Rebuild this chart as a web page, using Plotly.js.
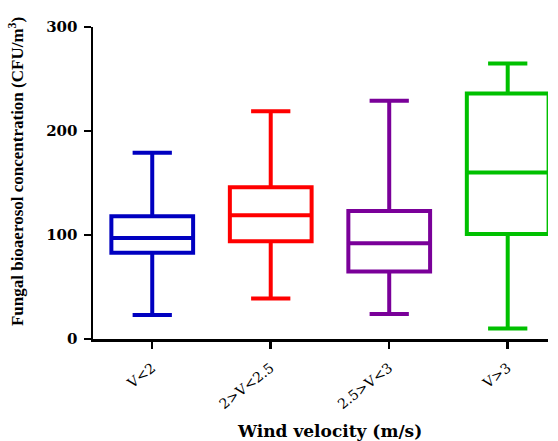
<!DOCTYPE html>
<html>
<head>
<meta charset="utf-8">
<script src="https://cdn.plot.ly/plotly-3.0.1.min.js"></script>
<style>html,body{margin:0;padding:0;background:#fff;}#chart{width:558px;height:441px;}</style>
</head>
<body>
<div id="chart"></div>
<script>
const categories = ["V<2", "2>V<2.5", "2.5>V<3", "V>3"];
const lowerWhisker = [23, 39, 24, 10];
const q1Values = [83, 94, 65, 101];
const medianValues = [97, 119, 92, 160];
const q3Values = [118, 146, 123, 236];
const upperWhisker = [179, 219, 229, 265];
const yTickValues = [0, 100, 200, 300];
const xTitle = "Wind velocity (m/s)";
const yTitle = "Fungal bioaerosol concentration (CFU/m<sup>3</sup>)";
const colors = ["#0000c0", "#ff0000", "#7a0099", "#00c000"];

const traces = categories.map((c, i) => ({
  type: "box",
  x: [c],
  q1: [q1Values[i]],
  median: [medianValues[i]],
  q3: [q3Values[i]],
  lowerfence: [lowerWhisker[i]],
  upperfence: [upperWhisker[i]],
  width: 0.69,
  whiskerwidth: 0.48,
  line: {color: colors[i], width: 4},
  fillcolor: "rgba(255,255,255,0)",
  boxpoints: false,
  hoverinfo: "skip",
  showlegend: false
}));

const serif = "Liberation Serif, Times New Roman, serif";
const wide = "DejaVu Serif, serif";

const layout = {
  width: 558,
  height: 441,
  margin: {l: 93, r: 10, t: 27, b: 102},
  paper_bgcolor: "#fff",
  plot_bgcolor: "#fff",
  boxmode: "overlay",
  showlegend: false,
  font: {family: serif, color: "#000"},
  xaxis: {
    type: "category",
    categoryorder: "array",
    categoryarray: categories,
    range: [-0.5, 3.34],
    showline: true,
    linecolor: "#000",
    linewidth: 2.5,
    ticks: "outside",
    ticklen: 7,
    tickwidth: 2.5,
    tickcolor: "#000",
    tickangle: -38,
    ticklabelstandoff: 6,
    tickfont: {size: 14, family: wide, color: "#000"},
    showgrid: false,
    zeroline: false
  },
  yaxis: {
    range: [0, 300],
    tickvals: yTickValues,
    ticktext: yTickValues.map(v => "<b>" + v + "</b>"),
    showline: true,
    linecolor: "#000",
    linewidth: 2.5,
    ticks: "outside",
    ticklen: 7,
    tickwidth: 2.5,
    tickcolor: "#000",
    ticklabelstandoff: 3,
    tickfont: {size: 15, family: wide, color: "#000"},
    showgrid: false,
    zeroline: false
  },
  annotations: [
    {
      text: "<b>" + xTitle + "</b>",
      xref: "paper", yref: "paper",
      x: 0.52, y: 0,
      xanchor: "center", yanchor: "middle",
      yshift: -92,
      showarrow: false,
      font: {size: 17, family: wide, color: "#000"}
    },
    {
      text: "<b>" + yTitle + "</b>",
      xref: "paper", yref: "paper",
      x: 0, y: 0.535,
      xanchor: "center", yanchor: "middle",
      xshift: -77,
      textangle: -90,
      showarrow: false,
      font: {size: 17, family: serif, color: "#000"}
    }
  ]
};

Plotly.newPlot("chart", traces, layout, {displayModeBar: false, staticPlot: true});
</script>
</body>
</html>
